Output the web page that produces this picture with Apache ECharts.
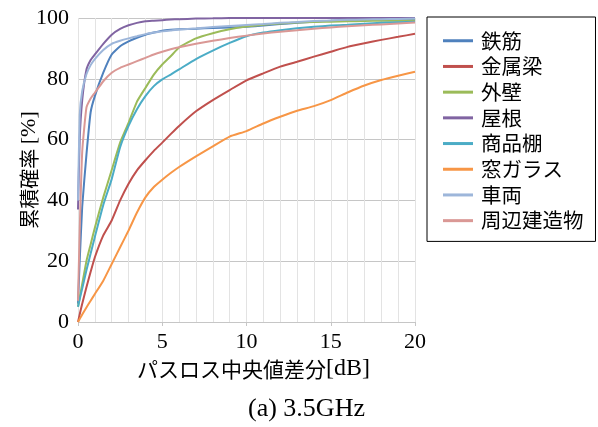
<!DOCTYPE html>
<html><head><meta charset="utf-8">
<script src="https://cdn.jsdelivr.net/npm/echarts@6/dist/echarts.min.js"></script>
<style>html,body{margin:0;padding:0;background:#fff}#c{width:598px;height:427px}</style>
</head><body><div id="c"></div>
<script>
const xs = [0, 0.1, 0.25, 0.5, 0.75, 1, 1.5, 2, 2.5, 3, 3.5, 4, 4.5, 5, 5.5, 6, 7, 8, 9, 10, 11, 12, 13, 14, 15, 16, 17, 18, 19, 20];
const names = ['鉄筋','金属梁','外壁','屋根','商品棚','窓ガラス','車両','周辺建造物'];
const tekkin  = [6, 20, 38, 55, 69, 74.3, 82, 88, 90.7, 92.3, 93.5, 94.5, 95.2, 95.8, 96.1, 96.3, 96.5, 96.7, 96.9, 97.1, 97.5, 98, 98.4, 98.8, 99.1, 99.3, 99.4, 99.5, 99.5, 99.6];
const kinzoku = [0, 2.5, 6, 11.4, 16.5, 21.3, 28.5, 33.4, 40, 45.5, 49.9, 53.2, 56.3, 59, 61.8, 64.5, 69.3, 73, 76.3, 79.5, 81.8, 84, 85.6, 87.3, 88.9, 90.5, 91.7, 92.8, 93.8, 94.8];
const gaiheki = [5, 8, 12.5, 20, 25.5, 31, 41, 50, 59, 65.5, 72.5, 77, 81.4, 84.7, 87.4, 90.3, 93.3, 95, 96.3, 97.2, 97.8, 98.2, 98.5, 98.7, 98.8, 98.9, 99, 99.1, 99.1, 99.2];
const yane    = [37, 60, 73, 83, 86.2, 88, 91.5, 94.5, 96.4, 97.6, 98.4, 98.9, 99.1, 99.3, 99.5, 99.6, 99.8, 99.9, 100, 100, 100, 100, 100, 100, 100, 100, 100, 100, 100, 100];
const shohin  = [5, 7.5, 11, 17, 22.5, 28, 38.5, 47, 57.5, 64.5, 70, 74.3, 77.6, 79.8, 81.4, 83.1, 86.5, 89.3, 91.8, 94, 95.2, 96, 96.6, 97.1, 97.5, 97.8, 98.1, 98.4, 98.6, 98.8];
const mado    = [0, 1, 2.5, 4.8, 7, 9.2, 13.6, 19.1, 24.6, 30.1, 36, 41, 44.4, 46.8, 49, 51, 54.5, 57.8, 61, 62.8, 65.3, 67.5, 69.5, 71, 73, 75.5, 77.8, 79.6, 81, 82.3];
const sharyo  = [40, 68, 76, 81.5, 84.5, 86.5, 89.5, 91.5, 92.5, 93.3, 94, 94.7, 95.2, 95.6, 95.9, 96.2, 96.6, 97, 97.4, 97.7, 98, 98.4, 98.7, 99, 99.2, 99.4, 99.5, 99.6, 99.7, 99.8];
const shuhen  = [7, 30, 56, 70.5, 73.5, 75.4, 79.2, 82, 83.6, 84.7, 85.8, 86.9, 88, 88.9, 89.7, 90.4, 91.5, 92.5, 93.4, 94.2, 94.9, 95.5, 96, 96.5, 96.9, 97.3, 97.6, 97.9, 98.2, 98.5];
const values = [tekkin, kinzoku, gaiheki, yane, shohin, mado, sharyo, shuhen];
const colors = ['#4F81BD','#C0504D','#9BBB59','#8064A2','#4BACC6','#F79646','#9DB6DA','#DA9895'];

const chart = echarts.init(document.getElementById('c'));
const serif = '"Liberation Serif", "Times New Roman", serif';
const sans = '"Noto Sans CJK JP", sans-serif';
chart.setOption({
  animation: false,
  color: colors,
  grid: {left: 78, right: 183, top: 18, bottom: 105, containLabel: false, outerBoundsMode: 'none'},
  xAxis: {
    type: 'value', min: 0, max: 20, interval: 5,
    axisLine: {show: false},
    axisTick: {show: true, length: 4, lineStyle: {color: '#c6c6c6'}},
    axisLabel: {color: '#000', fontFamily: serif, fontSize: 22, margin: 9},
    splitLine: {show: true, lineStyle: {color: '#e3e3e3', width: 1}},
    minorTick: {show: false, splitNumber: 5},
    minorSplitLine: {show: true, lineStyle: {color: '#e3e3e3', width: 1}},
    name: '{a|パスロス中央値差分}{b|[dB]}',
    nameLocation: 'middle', nameGap: 35, nameMoveOverlap: false,
    nameTextStyle: {padding: [0, 0, 0, 14], rich: {a: {fontFamily: sans, fontSize: 21, color: '#000'}, b: {fontFamily: serif, fontSize: 24, color: '#000'}}}
  },
  yAxis: {
    type: 'value', min: 0, max: 100, interval: 20,
    axisLine: {show: false},
    axisTick: {show: false},
    axisLabel: {color: '#000', fontFamily: serif, fontSize: 22, margin: 9},
    splitLine: {show: true, lineStyle: {color: '#c6c6c6', width: 1}},
    name: '{a|累積確率 }{b|[%]}',
    nameLocation: 'middle', nameGap: 38, nameRotate: 90, nameMoveOverlap: false,
    nameTextStyle: {rich: {a: {fontFamily: sans, fontSize: 20, color: '#000'}, b: {fontFamily: serif, fontSize: 22, color: '#000'}}}
  },
  legend: {
    orient: 'vertical', left: 427, top: 17,
    data: names,
    icon: 'rect', itemWidth: 30, itemHeight: 3, itemGap: 5.2,
    padding: [13.5, 12, 10.5, 16],
    borderColor: '#000', borderWidth: 1,
    textStyle: {fontFamily: sans, fontSize: 20.5, color: '#000', padding: [0, 0, 0, 3]}
  },
  graphic: [{
    type: 'text', left: 248, top: 396,
    style: {text: '(a) 3.5GHz', fontFamily: serif, fontSize: 26, fill: '#000'}
  }],
  series: names.map((n, i) => ({
    name: n, type: 'line', showSymbol: false, smooth: 0.15,
    lineStyle: {width: 2, color: colors[i]},
    itemStyle: {color: colors[i]},
    data: xs.map((x, j) => [x, values[i][j]])
  }))
});
</script></body></html>
